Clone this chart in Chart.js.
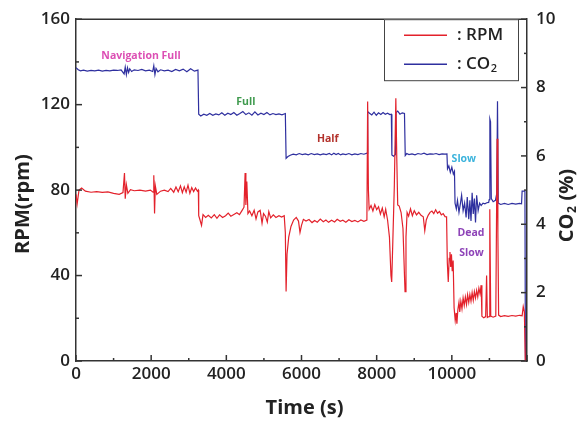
<!DOCTYPE html>
<html lang="pt">
<head>
<meta charset="utf-8">
<title>RPM e CO2</title>
<script src="https://cdn.jsdelivr.net/npm/chart.js@4.4.1/dist/chart.umd.min.js"></script>
<style>
  html, body { margin: 0; padding: 0; background: #ffffff; }
  #caixa { width: 584px; height: 421px; position: relative; }
</style>
</head>
<body>
<div id="caixa"><canvas id="rpmChart"></canvas></div>
<script>
// Série RPM: [tempo (s), rpm]
const serieRpm = [
    [0, 78], [30, 73.5], [80, 80], [150, 81], [250, 79.5], [400, 79], [550, 79.3], [700, 78.9],
    [850, 79.2], [1000, 78.5], [1150, 78], [1250, 78.8], [1290, 88], [1310, 76], [1340, 82.5],
    [1380, 78.5], [1450, 80.2], [1550, 79.7], [1700, 80], [1850, 79.5], [1980, 80], [2050, 79],
    [2070, 87], [2090, 69], [2110, 82], [2150, 78], [2250, 79.5], [2350, 80], [2450, 79.3],
    [2520, 80.8], [2600, 79], [2660, 81.5], [2720, 79.2], [2780, 82], [2830, 78.8], [2880, 81.5],
    [2930, 79], [2980, 82.3], [3030, 78.5], [3080, 81.2], [3130, 79.3], [3180, 81], [3230, 79.5],
    [3255, 80], [3265, 68], [3300, 66], [3340, 63.5], [3380, 68.5], [3450, 67.2], [3520, 68.2],
    [3600, 67], [3680, 68.5], [3750, 66.8], [3820, 68.4], [3900, 67.2], [3980, 68], [4050, 69.2],
    [4120, 67.8], [4200, 68.6], [4280, 69.4], [4350, 68.5], [4420, 70.5], [4470, 72], [4500, 88],
    [4520, 73], [4545, 84], [4575, 69], [4620, 70.2], [4680, 68], [4740, 70.6], [4790, 66.5],
    [4840, 69.8], [4900, 70.5], [4950, 64.5], [4990, 69], [5040, 67.8], [5090, 65], [5130, 70],
    [5180, 67], [5250, 68.4], [5320, 67.2], [5400, 68], [5470, 67.4], [5540, 68], [5570, 60],
    [5590, 32.5], [5615, 50], [5660, 58], [5720, 63], [5790, 66], [5860, 67.2], [5920, 65.5],
    [5960, 60.2], [6000, 63.5], [6050, 66.3], [6120, 65.5], [6200, 66.2], [6280, 64.8], [6350, 65.8],
    [6420, 65], [6500, 66.4], [6580, 65.2], [6650, 66], [6720, 64.9], [6800, 65.9], [6880, 65.1],
    [6950, 66.3], [7030, 65.4], [7100, 65.9], [7180, 65], [7260, 66.1], [7340, 65.3], [7420, 65.8],
    [7500, 65.1], [7580, 66], [7660, 65.4], [7740, 66], [7760, 121.5], [7780, 80], [7800, 71],
    [7850, 72.8], [7900, 70.2], [7950, 73.2], [8000, 70.8], [8050, 72.2], [8100, 68.8], [8150, 71.6],
    [8200, 67.5], [8240, 71], [8290, 66], [8340, 58], [8380, 40], [8400, 37], [8430, 56], [8470, 82],
    [8510, 123], [8535, 95], [8560, 73], [8600, 72.5], [8650, 69.5], [8700, 62], [8740, 40],
    [8755, 32.5], [8780, 58], [8810, 69.5], [8850, 67.8], [8900, 71.2], [8950, 68], [9000, 70.4],
    [9060, 68.4], [9120, 69.6], [9180, 68.2], [9240, 67.5], [9280, 61], [9320, 66], [9370, 68.2],
    [9420, 69.6], [9470, 70.2], [9520, 69], [9570, 70.8], [9620, 69.2], [9670, 70], [9720, 68.4],
    [9770, 69], [9820, 67.6], [9860, 67.5], [9880, 46], [9905, 37], [9930, 48], [9950, 51],
    [9970, 44], [9990, 50], [10010, 42], [10035, 47], [10060, 25], [10090, 19], [10115, 22.5],
    [10135, 17.5], [10160, 24], [10190, 27.5], [10210, 23], [10240, 28], [10270, 24.5], [10300, 29.5],
    [10330, 26], [10360, 30], [10390, 26.5], [10420, 31], [10450, 27.5], [10480, 31.2], [10510, 28],
    [10540, 32], [10570, 28.5], [10600, 32.5], [10630, 29.5], [10660, 33], [10690, 30], [10720, 34],
    [10750, 31.5], [10780, 35.5], [10800, 21], [10850, 20.2], [10900, 20.8], [10925, 40], [10945, 20.4],
    [10990, 20.8], [11010, 71], [11035, 21], [11100, 20.5], [11170, 21], [11205, 104], [11225, 60],
    [11245, 21.5], [11300, 20.8], [11400, 21.2], [11500, 20.9], [11600, 21.3], [11700, 21],
    [11800, 21.4], [11870, 21.2], [11900, 25.5], [11930, 23], [11955, 0]
];

// Série CO2: [tempo (s), %]
const serieCo2 = [
    [0, 8.58], [60, 8.52], [120, 8.49], [200, 8.51], [300, 8.48], [400, 8.50], [500, 8.49], [600, 8.51],
    [700, 8.48], [800, 8.50], [900, 8.49], [1000, 8.51], [1100, 8.50], [1200, 8.52], [1280, 8.40],
    [1310, 8.60], [1340, 8.38], [1370, 8.58], [1400, 8.44], [1430, 8.55], [1480, 8.47], [1550, 8.52],
    [1650, 8.50], [1750, 8.53], [1850, 8.49], [1950, 8.51], [2040, 8.47], [2070, 8.64], [2100, 8.38],
    [2130, 8.56], [2180, 8.46], [2250, 8.52], [2350, 8.49], [2450, 8.51], [2550, 8.47], [2650, 8.53],
    [2750, 8.49], [2850, 8.54], [2950, 8.46], [3050, 8.55], [3150, 8.48], [3245, 8.51], [3265, 7.22],
    [3320, 7.17], [3400, 7.22], [3480, 7.19], [3560, 7.24], [3640, 7.19], [3720, 7.23], [3800, 7.20],
    [3880, 7.26], [3960, 7.19], [4040, 7.25], [4120, 7.21], [4200, 7.27], [4280, 7.19], [4360, 7.24],
    [4440, 7.30], [4520, 7.21], [4600, 7.26], [4680, 7.19], [4760, 7.29], [4840, 7.20], [4920, 7.25],
    [5000, 7.21], [5080, 7.27], [5160, 7.20], [5240, 7.24], [5320, 7.21], [5400, 7.23], [5480, 7.20],
    [5570, 7.24], [5590, 5.93], [5640, 5.98], [5700, 6.02], [5780, 6.05], [5860, 6.03], [5940, 6.07],
    [6020, 6.04], [6100, 6.06], [6180, 6.03], [6260, 6.07], [6340, 6.04], [6420, 6.06], [6500, 6.03],
    [6580, 6.06], [6660, 6.04], [6740, 6.07], [6800, 6.03], [6860, 6.08], [6920, 6.04], [6980, 6.07],
    [7040, 6.03], [7100, 6.06], [7180, 6.04], [7260, 6.07], [7340, 6.03], [7420, 6.06], [7500, 6.04],
    [7580, 6.07], [7660, 6.05], [7745, 6.08], [7760, 7.30], [7810, 7.25], [7870, 7.20], [7930, 7.28],
    [7990, 7.19], [8050, 7.26], [8110, 7.21], [8170, 7.27], [8230, 7.22], [8290, 7.25], [8350, 7.21],
    [8390, 7.22], [8405, 6.03], [8450, 5.99], [8500, 6.04], [8515, 7.27], [8560, 7.31], [8620, 7.22],
    [8680, 7.26], [8740, 7.24], [8760, 6.01], [8800, 6.07], [8860, 6.04], [8940, 6.06], [9020, 6.03],
    [9100, 6.07], [9180, 6.05], [9260, 6.08], [9340, 6.04], [9420, 6.06], [9500, 6.05], [9580, 6.07],
    [9660, 6.04], [9740, 6.06], [9820, 6.05], [9870, 6.06], [9885, 5.62], [9920, 5.71], [9960, 5.52],
    [10000, 5.67], [10040, 5.47], [10070, 5.55], [10085, 4.62], [10120, 4.45], [10150, 4.70],
    [10190, 4.35], [10230, 4.62], [10260, 4.85], [10300, 4.40], [10340, 4.62], [10380, 4.20],
    [10410, 4.80], [10450, 4.15], [10480, 4.70], [10510, 4.10], [10540, 4.92], [10570, 4.30],
    [10600, 4.75], [10630, 4.05], [10660, 4.85], [10700, 4.40], [10740, 4.62], [10780, 4.55],
    [10830, 4.62], [10880, 4.60], [10930, 4.63], [10980, 4.64], [10995, 4.72], [11012, 7.08],
    [11030, 7.00], [11050, 4.75], [11100, 4.66], [11160, 4.70], [11195, 4.90], [11215, 7.60],
    [11235, 4.62], [11300, 4.58], [11400, 4.61], [11500, 4.58], [11600, 4.61], [11700, 4.59],
    [11800, 4.61], [11855, 4.60], [11870, 4.97], [11945, 4.97], [11958, 0]
];

// Eixos
const limitesTempo = [0, 12000];
const limitesRpm = [0, 160];
const limitesCo2 = [0, 10];

// Rótulos dentro do gráfico (posição em tempo / CO2)
const rotulosTexto = ['Navigation Full', 'Full', 'Half', 'Slow', 'Dead', 'Slow'];
const rotulosTempo = [1730, 4520, 6700, 10320, 10510, 10520];
const rotulosCo2 = [8.92, 7.59, 6.48, 5.91, 3.75, 3.16];
const rotulosCor = ['#dc4fb4', '#3f9a4e', '#b3322c', '#3bb3dc', '#8e44b8', '#8e44b8'];

const corRpm = '#e3212b';
const corCo2 = '#2e2f9f';
const corEixo = '#333333';
const corTexto = '#222222';
const fonte = '"Open Sans", "Noto Sans", sans-serif';

document.addEventListener('DOMContentLoaded', function() {
    const pontosRpm = serieRpm.map(p => ({ x: p[0], y: p[1] }));
    const pontosCo2 = serieCo2.map(p => ({ x: p[0], y: p[1] }));

    // Texto com "2" subscrito (CO2)
    function larguraCo2(ctx, antes, depois, tam) {
        ctx.font = '700 ' + tam + 'px ' + fonte;
        let w = ctx.measureText(antes + 'CO').width + ctx.measureText(depois).width;
        ctx.font = '700 ' + Math.round(tam * 0.62) + 'px ' + fonte;
        return w + ctx.measureText('2').width;
    }
    function desenhaCo2(ctx, antes, depois, x, y, tam, peso) {
        ctx.textAlign = 'left';
        ctx.textBaseline = 'middle';
        ctx.font = peso + ' ' + tam + 'px ' + fonte;
        ctx.fillText(antes + 'CO', x, y);
        x += ctx.measureText(antes + 'CO').width;
        ctx.font = peso + ' ' + Math.round(tam * 0.62) + 'px ' + fonte;
        ctx.fillText('2', x + 0.5, y + tam * 0.3);
        x += ctx.measureText('2').width + 1;
        ctx.font = peso + ' ' + tam + 'px ' + fonte;
        ctx.fillText(depois, x, y);
    }

    // Moldura, marcas dos eixos, legenda e títulos
    const molduraPlugin = {
        id: 'moldura',
        afterDraw(chart) {
            const { ctx, chartArea: a, scales } = chart;
            ctx.save();
            ctx.strokeStyle = corEixo;
            ctx.lineWidth = 1.5;
            function linha(x1, y1, x2, y2) {
                ctx.beginPath();
                ctx.moveTo(x1, y1);
                ctx.lineTo(x2, y2);
                ctx.stroke();
            }
            linha(a.left, a.top, a.right, a.top);

            for (let v = limitesTempo[0]; v <= limitesTempo[1]; v += 1000) {
                const px = scales.x.getPixelForValue(v);
                linha(px, a.bottom, px, a.bottom - (v % 2000 === 0 ? 6 : 3));
            }
            for (let v = limitesRpm[0]; v <= limitesRpm[1]; v += 20) {
                const py = scales.y.getPixelForValue(v);
                linha(a.left, py, a.left + (v % 40 === 0 ? 6 : 3), py);
            }
            for (let v = limitesCo2[0]; v <= limitesCo2[1]; v += 1) {
                const py = scales.y1.getPixelForValue(v);
                linha(a.right, py, a.right - (v % 2 === 0 ? 6 : 3), py);
            }

            // Rótulos das fases
            ctx.textAlign = 'center';
            ctx.textBaseline = 'middle';
            ctx.font = '700 10.5px ' + fonte;
            rotulosTexto.forEach((t, i) => {
                ctx.fillStyle = rotulosCor[i];
                ctx.fillText(t, scales.x.getPixelForValue(rotulosTempo[i]), scales.y1.getPixelForValue(rotulosCo2[i]));
            });

            // Legenda
            const lx = a.right - 143, ly = a.top, lw = 134, lh = 61;
            ctx.fillStyle = '#ffffff';
            ctx.fillRect(lx, ly, lw, lh);
            ctx.strokeStyle = '#444444';
            ctx.lineWidth = 1;
            ctx.strokeRect(lx + 0.5, ly + 0.5, lw, lh);
            ctx.lineWidth = 1.5;
            ctx.strokeStyle = corRpm;
            linha(lx + 20, ly + 16, lx + 63, ly + 16);
            ctx.strokeStyle = corCo2;
            linha(lx + 20, ly + 45, lx + 63, ly + 45);
            ctx.fillStyle = corTexto;
            ctx.textAlign = 'left';
            ctx.font = '600 17px ' + fonte;
            ctx.fillText(': RPM', lx + 73, ly + 16);
            desenhaCo2(ctx, ': ', '', lx + 73, ly + 45, 17, 600);

            // Títulos dos eixos
            ctx.fillStyle = corTexto;
            ctx.font = '700 20px ' + fonte;
            ctx.textAlign = 'center';
            ctx.fillText('Time (s)', (a.left + a.right) / 2 + 3, a.bottom + 47);

            ctx.save();
            ctx.translate(a.left - 53, (a.top + a.bottom) / 2 + 14);
            ctx.rotate(-Math.PI / 2);
            ctx.font = '700 20px ' + fonte;
            ctx.textAlign = 'center';
            ctx.fillText('RPM(rpm)', 0, 0);
            ctx.restore();

            ctx.save();
            ctx.translate(a.right + 40, (a.top + a.bottom) / 2 + 16);
            ctx.rotate(-Math.PI / 2);
            const w = larguraCo2(ctx, '', ' (%)', 20);
            desenhaCo2(ctx, '', ' (%)', -w / 2, 0, 20, 700);
            ctx.restore();

            ctx.restore();
        }
    };

    const fonteTicks = { family: fonte, size: 17, weight: '600' };
    const bordaEixo = { display: true, color: corEixo, width: 1.5 };
    const semGrade = { display: false, drawTicks: false };

    const canvas = document.getElementById('rpmChart');
    const ctx = canvas.getContext('2d');

    new Chart(ctx, {
        type: 'line',
        data: {
            datasets: [{
                label: 'RPM',
                data: pontosRpm,
                yAxisID: 'y',
                borderColor: corRpm,
                borderWidth: 1.2,
                pointRadius: 0,
                tension: 0
            }, {
                label: 'CO2',
                data: pontosCo2,
                yAxisID: 'y1',
                borderColor: corCo2,
                borderWidth: 1.2,
                pointRadius: 0,
                tension: 0
            }]
        },
        options: {
            responsive: true,
            maintainAspectRatio: false,
            animation: false,
            layout: { padding: { top: 17 } },
            plugins: {
                legend: { display: false },
                tooltip: { enabled: false }
            },
            scales: {
                x: {
                    type: 'linear',
                    min: limitesTempo[0],
                    max: limitesTempo[1],
                    afterFit: s => { s.height = 60; },
                    grid: semGrade,
                    border: bordaEixo,
                    ticks: {
                        stepSize: 2000,
                        padding: 3,
                        maxRotation: 0,
                        autoSkip: false,
                        color: corTexto,
                        font: fonteTicks,
                        callback: v => (v === limitesTempo[1] ? '' : String(v))
                    }
                },
                y: {
                    position: 'left',
                    min: limitesRpm[0],
                    max: limitesRpm[1],
                    afterFit: s => { s.width = 76; },
                    grid: semGrade,
                    border: bordaEixo,
                    ticks: { stepSize: 40, padding: 6, color: corTexto, font: fonteTicks, callback: v => String(v) }
                },
                y1: {
                    position: 'right',
                    min: limitesCo2[0],
                    max: limitesCo2[1],
                    afterFit: s => { s.width = 57; },
                    grid: semGrade,
                    border: bordaEixo,
                    ticks: { stepSize: 2, padding: 9, color: corTexto, font: fonteTicks, callback: v => String(v) }
                }
            }
        },
        plugins: [molduraPlugin]
    });
});
</script>
</body>
</html>
